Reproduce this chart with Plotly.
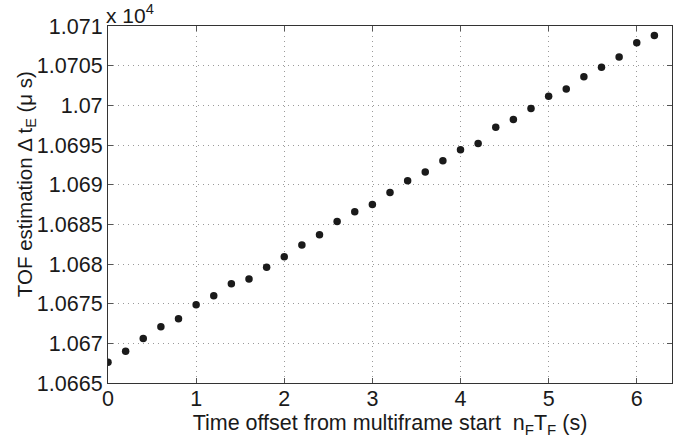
import plotly.graph_objects as go

x_offset_s = [0.0, 0.2, 0.4, 0.6, 0.8, 1.0, 1.2, 1.4, 1.6, 1.8, 2.0, 2.2, 2.4, 2.6, 2.8, 3.0,
              3.2, 3.4, 3.6, 3.8, 4.0, 4.2, 4.4, 4.6, 4.8, 5.0, 5.2, 5.4, 5.6, 5.8, 6.0, 6.2]
tof_us = [10667.6, 10669.0, 10670.6, 10672.1, 10673.1, 10674.85, 10676.0, 10677.5,
          10678.1, 10679.6, 10680.9, 10682.4, 10683.7, 10685.35, 10686.6, 10687.5,
          10689.0, 10690.5, 10691.6, 10693.0, 10694.4, 10695.2, 10697.25, 10698.2,
          10699.6, 10701.15, 10702.05, 10703.6, 10704.8, 10706.1, 10707.9, 10708.8]

y_tickvals = [10665, 10670, 10675, 10680, 10685, 10690, 10695, 10700, 10705, 10710]
y_ticktext = ["1.0665", "1.067", "1.0675", "1.068", "1.0685", "1.069", "1.0695", "1.07", "1.0705", "1.071"]
x_tickvals = [0, 1, 2, 3, 4, 5, 6]

FONT = "Liberation Sans, Arial, Helvetica, sans-serif"
INK = "#1a1a1a"
FS = 21.5

fig = go.Figure()
fig.add_trace(go.Scatter(
    x=x_offset_s, y=tof_us, mode="markers",
    marker=dict(size=7.5, color=INK),
    showlegend=False,
))

axis_common = dict(
    showline=True, linecolor="#333333", linewidth=1.2, mirror="ticks",
    ticks="inside", ticklen=5, tickcolor="#555555", tickwidth=1,
    showgrid=True, gridcolor="#9a9a9a", griddash="1px,4px", gridwidth=1,
    zeroline=False, automargin=False,
    tickfont=dict(family=FONT, size=FS, color=INK),
)

fig.update_layout(
    width=686, height=440,
    margin=dict(l=108, r=14, t=26, b=57, autoexpand=False),
    paper_bgcolor="white", plot_bgcolor="white",
    font=dict(family=FONT, size=FS, color=INK),
    xaxis=dict(
        range=[0, 6.4], tickvals=x_tickvals, ticklabelstandoff=-4,
        title=dict(text="Time offset from multiframe start  n<sub>F</sub>T<sub>F</sub> (s)",
                   font=dict(family=FONT, size=FS, color=INK), standoff=5),
        **axis_common,
    ),
    yaxis=dict(
        range=[10665, 10710], tickvals=y_tickvals, ticktext=y_ticktext,
        **axis_common,
    ),
    annotations=[
        dict(
            text="x 10<sup>4</sup>", xref="paper", yref="paper",
            x=0, y=1, xanchor="left", yanchor="bottom", showarrow=False,
            font=dict(family=FONT, size=21, color=INK), xshift=-4, yshift=-3,
        ),
        dict(
            text="TOF estimation \u0394 t<sub>E</sub> (\u03bc s)", xref="paper", yref="paper",
            x=0, y=0.557, xanchor="center", yanchor="middle", showarrow=False,
            textangle=-90, xshift=-82,
            font=dict(family=FONT, size=20.5, color=INK),
        ),
    ],
)

fig.write_html("out.html", config={"displayModeBar": False},
               post_script="document.body.style.margin='0';document.body.style.padding='0';")
